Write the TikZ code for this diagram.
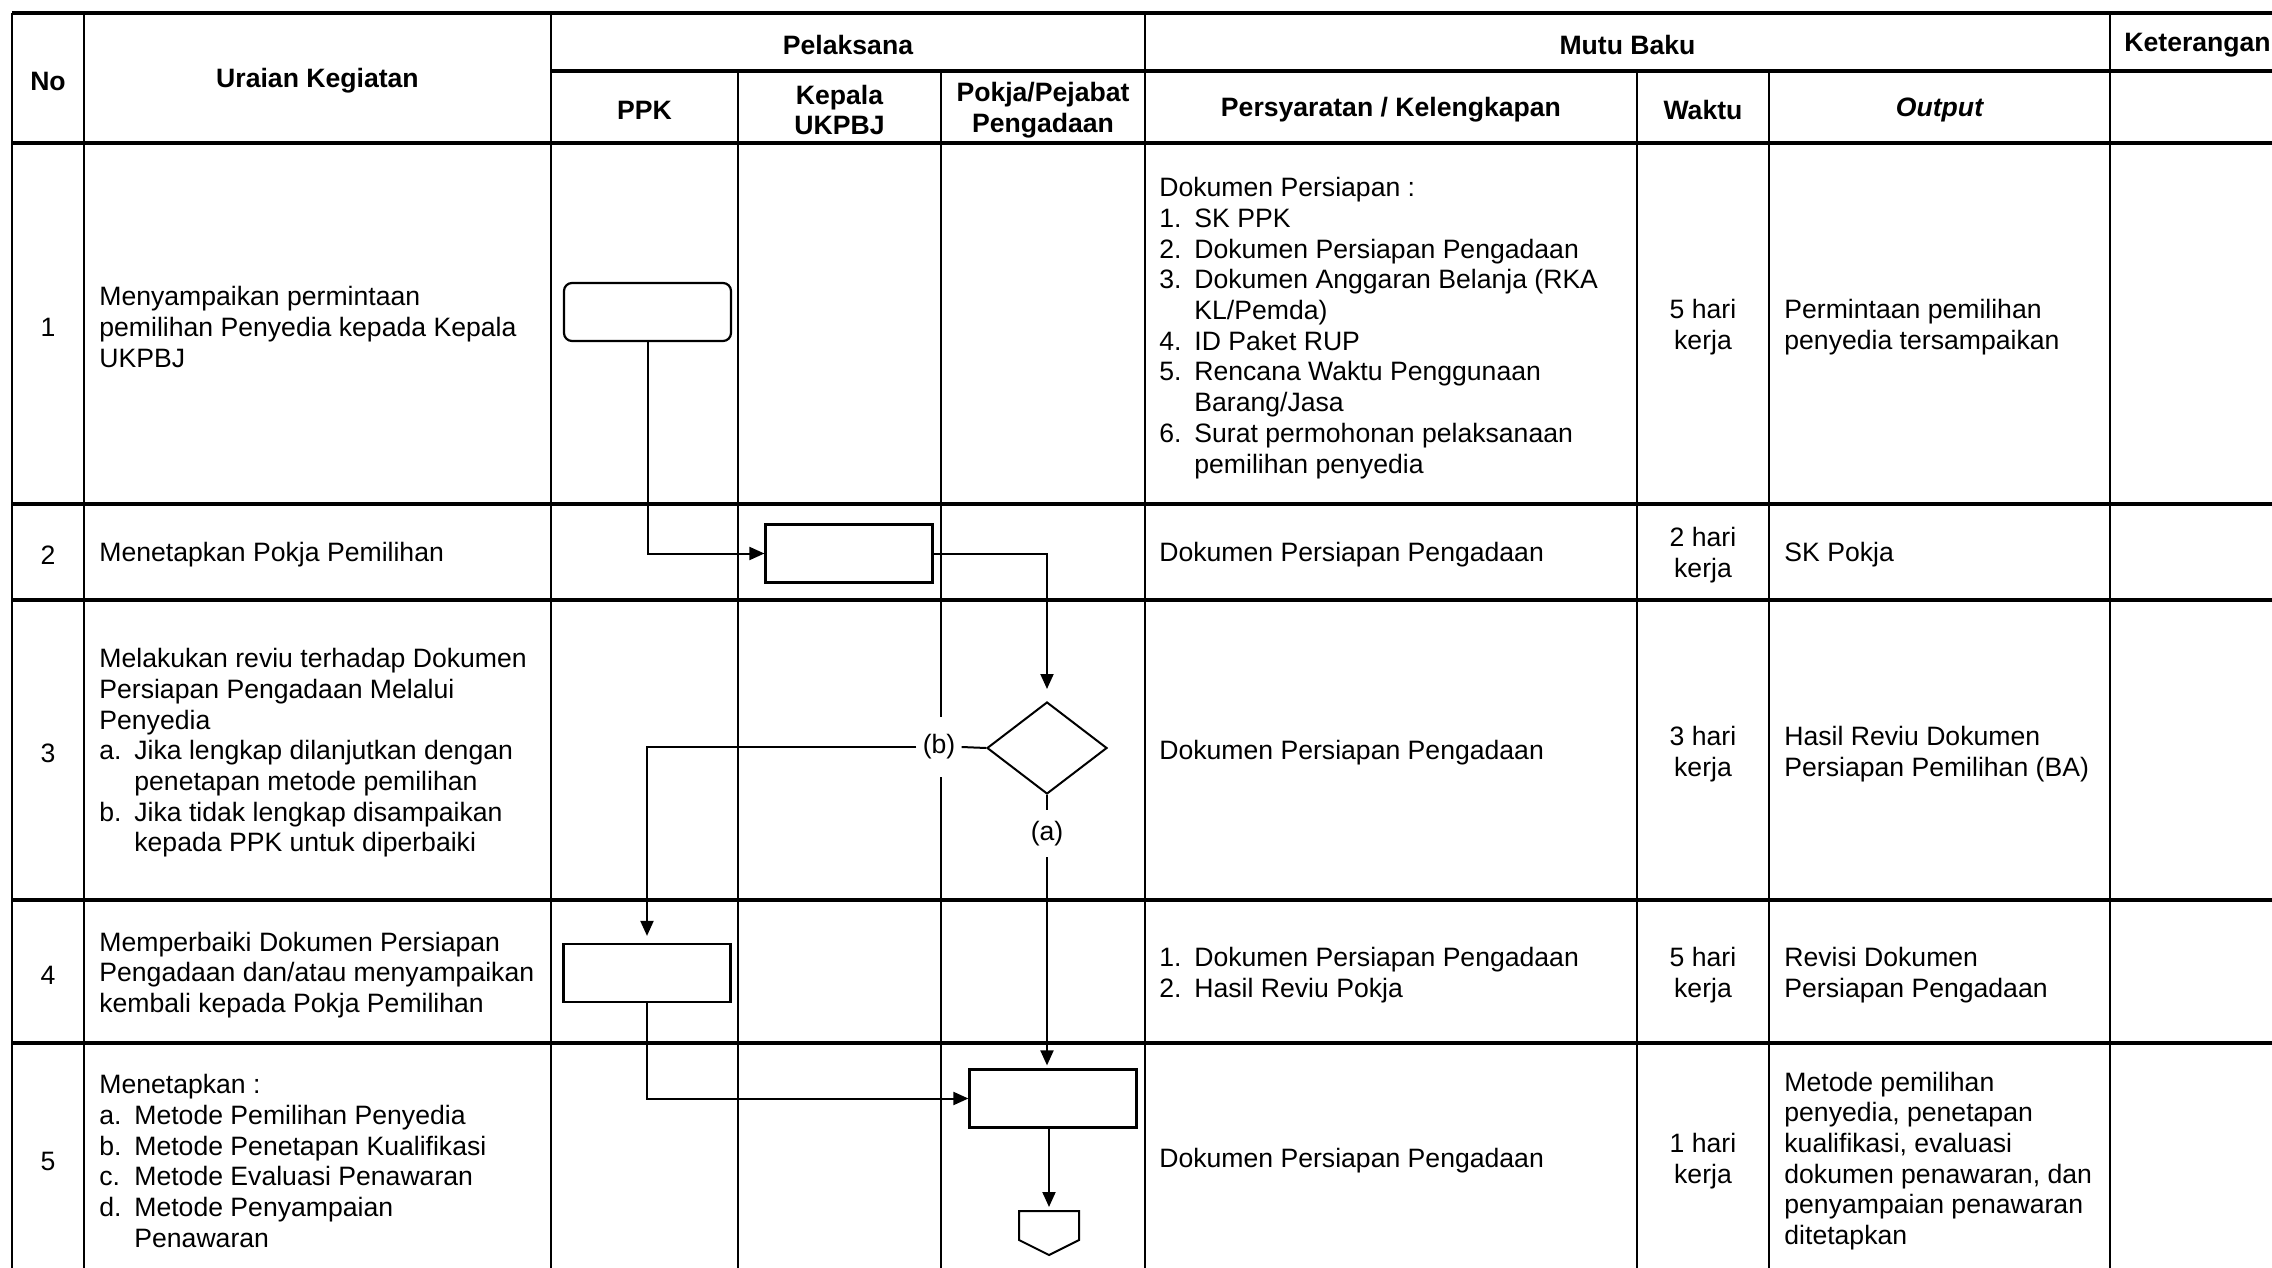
\documentclass[tikz,border=0pt]{standalone}
\usepackage{fontspec}
\setmainfont{Liberation Sans}
\usetikzlibrary{arrows.meta,shapes.geometric,calc}
\newcommand\li[1]{\makebox[17.5pt][l]{#1}}
\newcommand\ind{\hspace*{17.5pt}}
\tikzset{
  thinline/.style={line width=0.8pt},
  thickline/.style={line width=1.6pt},
  tx/.style={font=\fontsize{13.3pt}{15.35pt}\selectfont, inner sep=0pt, align=left, yshift=-1.5pt},
  hd/.style={font=\fontsize{13.3pt}{15.35pt}\selectfont\bfseries, inner sep=0pt, align=center, yshift=-1.5pt},
  ct/.style={tx, align=center},
  lt/.style={tx, anchor=west},
  box/.style={draw, line width=1.1pt, minimum width=83.5pt, minimum height=29pt, inner sep=0pt},
  rbox/.style={box, rounded corners=4pt},
  dec/.style={draw, diamond, line width=1pt, minimum width=60pt, minimum height=46pt, inner sep=0pt},
  conn/.style={line width=1pt},
  arr/.style={conn, -{Triangle[length=7.5pt,width=6.5pt]}},
  lab/.style={font=\fontsize{13.3pt}{15.35pt}\selectfont, inner xsep=3pt, inner ysep=0pt},
}
\begin{document}
\begin{tikzpicture}[x=0.5pt,y=-0.5pt]
\useasboundingbox (0,0) rectangle (2272,1268);
\clip (0,0) rectangle (2272,1268);
\fill[white] (0,0) rectangle (2272,1268);
% table grid
\foreach \x in {12,84,551,1145,2110} \draw[thinline] (\x,13) -- (\x,1290);
\foreach \x in {738,941,1637,1769} \draw[thinline] (\x,71) -- (\x,1290);
\draw[thickline] (551,71) -- (2290,71);
\foreach \y in {13,143,504,600,900,1043} \draw[thickline] (12,\y) -- (2290,\y);
% headers
\node[hd] (hNo) at (48,78) {No};
\node[hd] (hUr) at (317.5,78) {Uraian Kegiatan};
\node[hd] (hPel) at (848,42) {Pelaksana};
\node[hd] (hMutu) at (1627.5,42) {Mutu Baku};
\node[hd, anchor=west] (hKet) at (2124,42) {Keterangan};
\node[hd] (hPPK) at (644.5,107) {PPK};
\node[hd] (hKep) at (839.5,107) {Kepala\\UKPBJ};
\node[hd] (hPokja) at (1043,107) {Pokja/Pejabat\\Pengadaan};
\node[hd] (hPers) at (1391,107) {Persyaratan / Kelengkapan};
\node[hd] (hWaktu) at (1703,107) {Waktu};
\node[hd] (hOut) at (1939.5,107) {\itshape Output};
% row 1
\node[ct] (n1) at (48,324) {1};
\node[lt] (u1) at (99,324) {Menyampaikan permintaan\\pemilihan Penyedia kepada Kepala\\UKPBJ};
\node[lt] (p1) at (1159,325) {Dokumen Persiapan :\\\li{1.}SK PPK\\\li{2.}Dokumen Persiapan Pengadaan\\\li{3.}Dokumen Anggaran Belanja (RKA\\\ind KL/Pemda)\\\li{4.}ID Paket RUP\\\li{5.}Rencana Waktu Penggunaan\\\ind Barang/Jasa\\\li{6.}Surat permohonan pelaksanaan\\\ind pemilihan penyedia};
\node[ct] (w1) at (1703,324) {5 hari\\kerja};
\node[lt] (o1) at (1784,324) {Permintaan pemilihan\\penyedia tersampaikan};
% row 2
\node[ct] (n2) at (48,552) {2};
\node[lt] (u2) at (99,552) {Menetapkan Pokja Pemilihan};
\node[lt] (p2) at (1159,552) {Dokumen Persiapan Pengadaan};
\node[ct] (w2) at (1703,552) {2 hari\\kerja};
\node[lt] (o2) at (1784,552) {SK Pokja};
% row 3
\node[ct] (n3) at (48,750) {3};
\node[lt] (u3) at (99,750) {Melakukan reviu terhadap Dokumen\\Persiapan Pengadaan Melalui\\Penyedia\\\li{a.}Jika lengkap dilanjutkan dengan\\\ind penetapan metode pemilihan\\\li{b.}Jika tidak lengkap disampaikan\\\ind kepada PPK untuk diperbaiki};
\node[lt] (p3) at (1159,750) {Dokumen Persiapan Pengadaan};
\node[ct] (w3) at (1703,751) {3 hari\\kerja};
\node[lt] (o3) at (1784,751) {Hasil Reviu Dokumen\\Persiapan Pemilihan (BA)};
% row 4
\node[ct] (n4) at (48,972) {4};
\node[lt] (u4) at (99,972) {Memperbaiki Dokumen Persiapan\\Pengadaan dan/atau menyampaikan\\kembali kepada Pokja Pemilihan};
\node[lt] (p4) at (1159,972) {\li{1.}Dokumen Persiapan Pengadaan\\\li{2.}Hasil Reviu Pokja};
\node[ct] (w4) at (1703,972) {5 hari\\kerja};
\node[lt] (o4) at (1784,972) {Revisi Dokumen\\Persiapan Pengadaan};
% row 5
\node[ct] (n5) at (48,1158) {5};
\node[lt] (u5) at (99,1158) {Menetapkan :\\\li{a.}Metode Pemilihan Penyedia\\\li{b.}Metode Penetapan Kualifikasi\\\li{c.}Metode Evaluasi Penawaran\\\li{d.}Metode Penyampaian\\\ind Penawaran};
\node[lt] (p5) at (1159,1158) {Dokumen Persiapan Pengadaan};
\node[ct] (w5) at (1703,1158) {1 hari\\kerja};
\node[lt] (o5) at (1784,1158) {Metode pemilihan\\penyedia, penetapan\\kualifikasi, evaluasi\\dokumen penawaran, dan\\penyampaian penawaran\\ditetapkan};
% flow shapes
\node[rbox] (r1) at (647.5,312) {};
\node[box] (r2) at (849,553.5) {};
\node[dec] (dia) at (1047,748) {};
\node[box] (r4) at (647,973) {};
\node[box] (r5) at (1053,1098.5) {};
\node[lab, fill=white, minimum height=30pt] (lb) at (939,747) {(b)};
\node[lab, minimum height=23.5pt] (la) at (1047,833.5) {(a)};
\coordinate (cn) at (1049,1211);
\draw[line width=1pt] ($(cn)+(-30,0)$) -- ($(cn)+(30,0)$) -- ($(cn)+(30,29)$) -- ($(cn)+(0,44)$) -- ($(cn)+(-30,29)$) -- cycle;
% connectors
\draw[arr] (r1.south) |- (r2.west);
\draw[arr, shorten >=6pt] (r2.east) -| (dia.north);
\draw[conn] (dia.west) -- (lb.east);
\draw[arr, shorten >=3.5pt] (lb.west) -| (r4.north);
\draw[conn] (dia.south) -- (la.north);
\draw[arr, shorten >=1.5pt] (la.south) -- (la.south |- r5.north);
\draw[arr] (r4.south) |- (r5.west);
\draw[arr, shorten >=2pt] (cn |- r5.south) -- (cn);
\end{tikzpicture}
\end{document}
